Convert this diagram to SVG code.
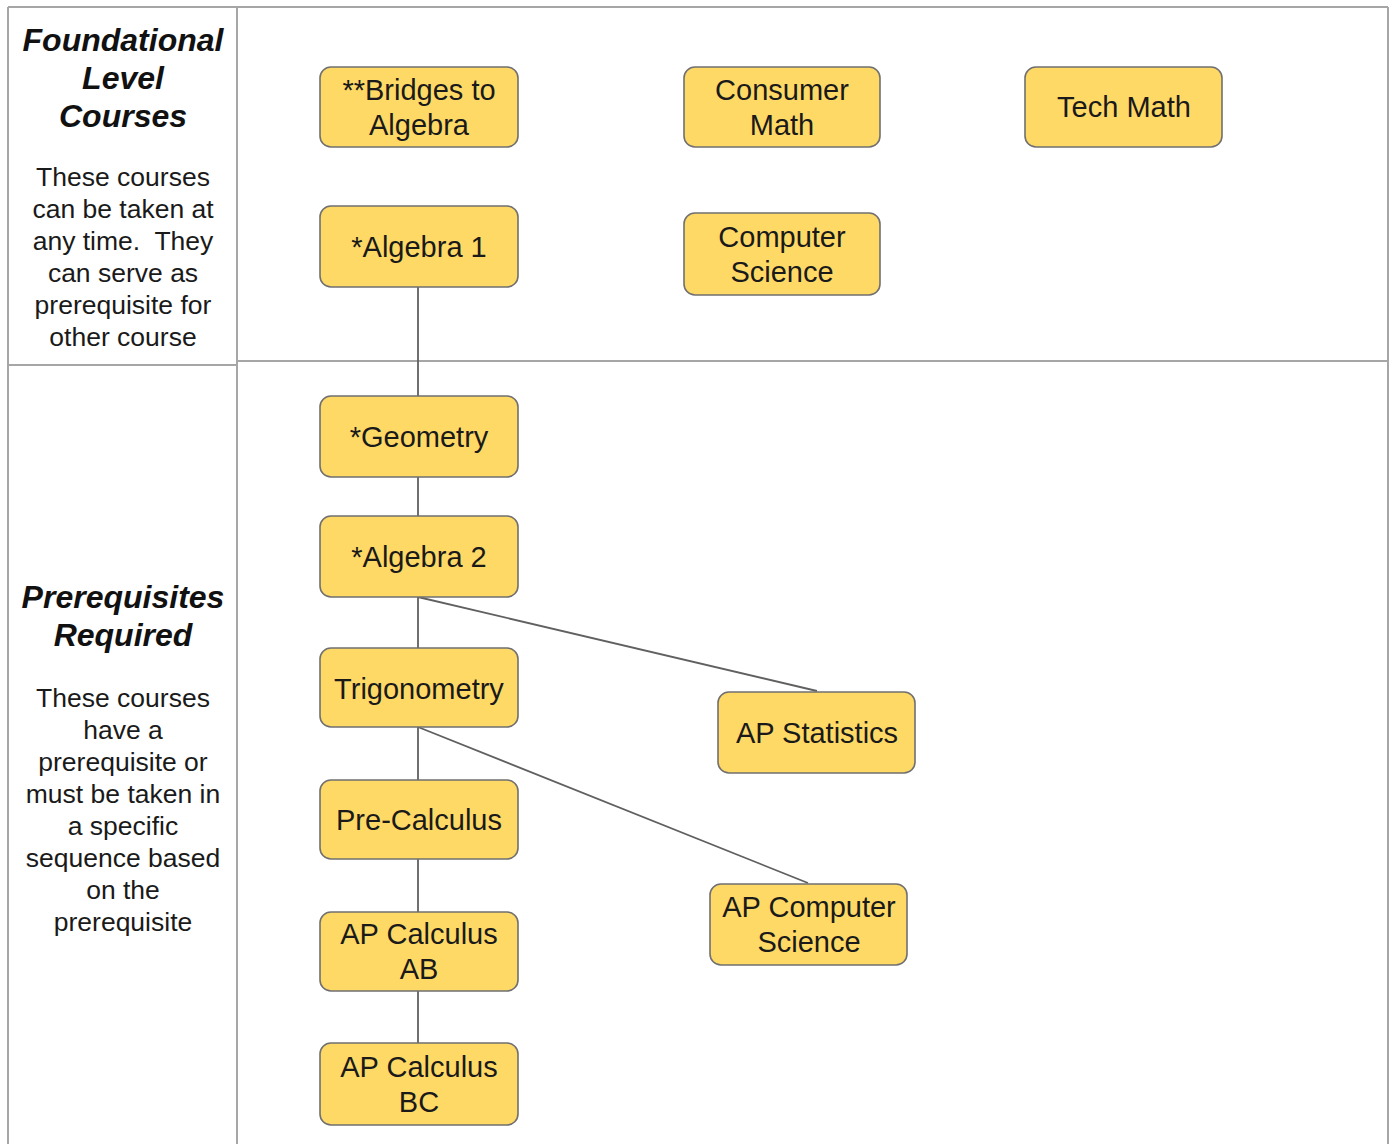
<svg xmlns="http://www.w3.org/2000/svg" width="1393" height="1144" viewBox="0 0 1393 1144">
<style>
.grid{stroke:#a6a6a6;stroke-width:2;fill:none}
.node rect{fill:#ffd966;stroke:#707070;stroke-width:1.6}
.node text{font-family:"Liberation Sans",Arial,sans-serif;font-size:29px;fill:#1a1a1a;text-anchor:middle}
.head{font-family:"Liberation Sans",Arial,sans-serif;font-size:32px;font-weight:bold;font-style:italic;fill:#111;text-anchor:middle}
.body{font-family:"Liberation Sans",Arial,sans-serif;font-size:26.5px;fill:#1a1a1a;text-anchor:middle}
.conn line{stroke:#606060;stroke-width:1.8}
</style>
<rect width="1393" height="1144" fill="#fff"/>
<g id="table" class="grid">
<line x1="8" y1="7" x2="1388" y2="7"/>
<line x1="8" y1="7" x2="8" y2="1144"/>
<line x1="1388" y1="7" x2="1388" y2="1144"/>
<line x1="237" y1="7" x2="237" y2="1144"/>
<line x1="8" y1="365" x2="237" y2="365"/>
<line x1="237" y1="361" x2="1388" y2="361"/>
</g>
<g id="label-foundational">
<text class="head" x="123" y="51">Foundational</text>
<text class="head" x="123" y="89">Level</text>
<text class="head" x="123" y="127">Courses</text>
<text class="body" x="123" y="186">These courses</text>
<text class="body" x="123" y="218">can be taken at</text>
<text class="body" x="123" y="250" xml:space="preserve">any time.  They</text>
<text class="body" x="123" y="282">can serve as</text>
<text class="body" x="123" y="314">prerequisite for</text>
<text class="body" x="123" y="346">other course</text>
</g>
<g id="label-prereq">
<text class="head" x="123" y="608">Prerequisites</text>
<text class="head" x="123" y="646">Required</text>
<text class="body" x="123" y="707">These courses</text>
<text class="body" x="123" y="739">have a</text>
<text class="body" x="123" y="771">prerequisite or</text>
<text class="body" x="123" y="803">must be taken in</text>
<text class="body" x="123" y="835">a specific</text>
<text class="body" x="123" y="867">sequence based</text>
<text class="body" x="123" y="899">on the</text>
<text class="body" x="123" y="931">prerequisite</text>
</g>
<g id="connectors" class="conn">
<line x1="418" y1="287" x2="418" y2="1043"/>
<line x1="418" y1="597" x2="817" y2="691"/>
<line x1="418" y1="727" x2="808" y2="883"/>
</g>
<g id="bridges" class="node"><rect x="320" y="67" width="198" height="80" rx="11"/><text x="419" y="100">**Bridges to</text><text x="419" y="135">Algebra</text></g>
<g id="consumer-math" class="node"><rect x="684" y="67" width="196" height="80" rx="11"/><text x="782" y="100">Consumer</text><text x="782" y="135">Math</text></g>
<g id="tech-math" class="node"><rect x="1025" y="67" width="197" height="80" rx="11"/><text x="1124" y="117">Tech Math</text></g>
<g id="algebra1" class="node"><rect x="320" y="206" width="198" height="81" rx="11"/><text x="419" y="257">*Algebra 1</text></g>
<g id="computer-science" class="node"><rect x="684" y="213" width="196" height="82" rx="11"/><text x="782" y="247">Computer</text><text x="782" y="282">Science</text></g>
<g id="geometry" class="node"><rect x="320" y="396" width="198" height="81" rx="11"/><text x="419" y="447">*Geometry</text></g>
<g id="algebra2" class="node"><rect x="320" y="516" width="198" height="81" rx="11"/><text x="419" y="567">*Algebra 2</text></g>
<g id="trigonometry" class="node"><rect x="320" y="648" width="198" height="79" rx="11"/><text x="419" y="699">Trigonometry</text></g>
<g id="ap-statistics" class="node"><rect x="718" y="692" width="197" height="81" rx="11"/><text x="817" y="743">AP Statistics</text></g>
<g id="pre-calculus" class="node"><rect x="320" y="780" width="198" height="79" rx="11"/><text x="419" y="830">Pre-Calculus</text></g>
<g id="ap-computer-science" class="node"><rect x="710" y="884" width="197" height="81" rx="11"/><text x="809" y="917">AP Computer</text><text x="809" y="952">Science</text></g>
<g id="ap-calc-ab" class="node"><rect x="320" y="912" width="198" height="79" rx="11"/><text x="419" y="944">AP Calculus</text><text x="419" y="979">AB</text></g>
<g id="ap-calc-bc" class="node"><rect x="320" y="1043" width="198" height="82" rx="11"/><text x="419" y="1077">AP Calculus</text><text x="419" y="1112">BC</text></g>
</svg>
